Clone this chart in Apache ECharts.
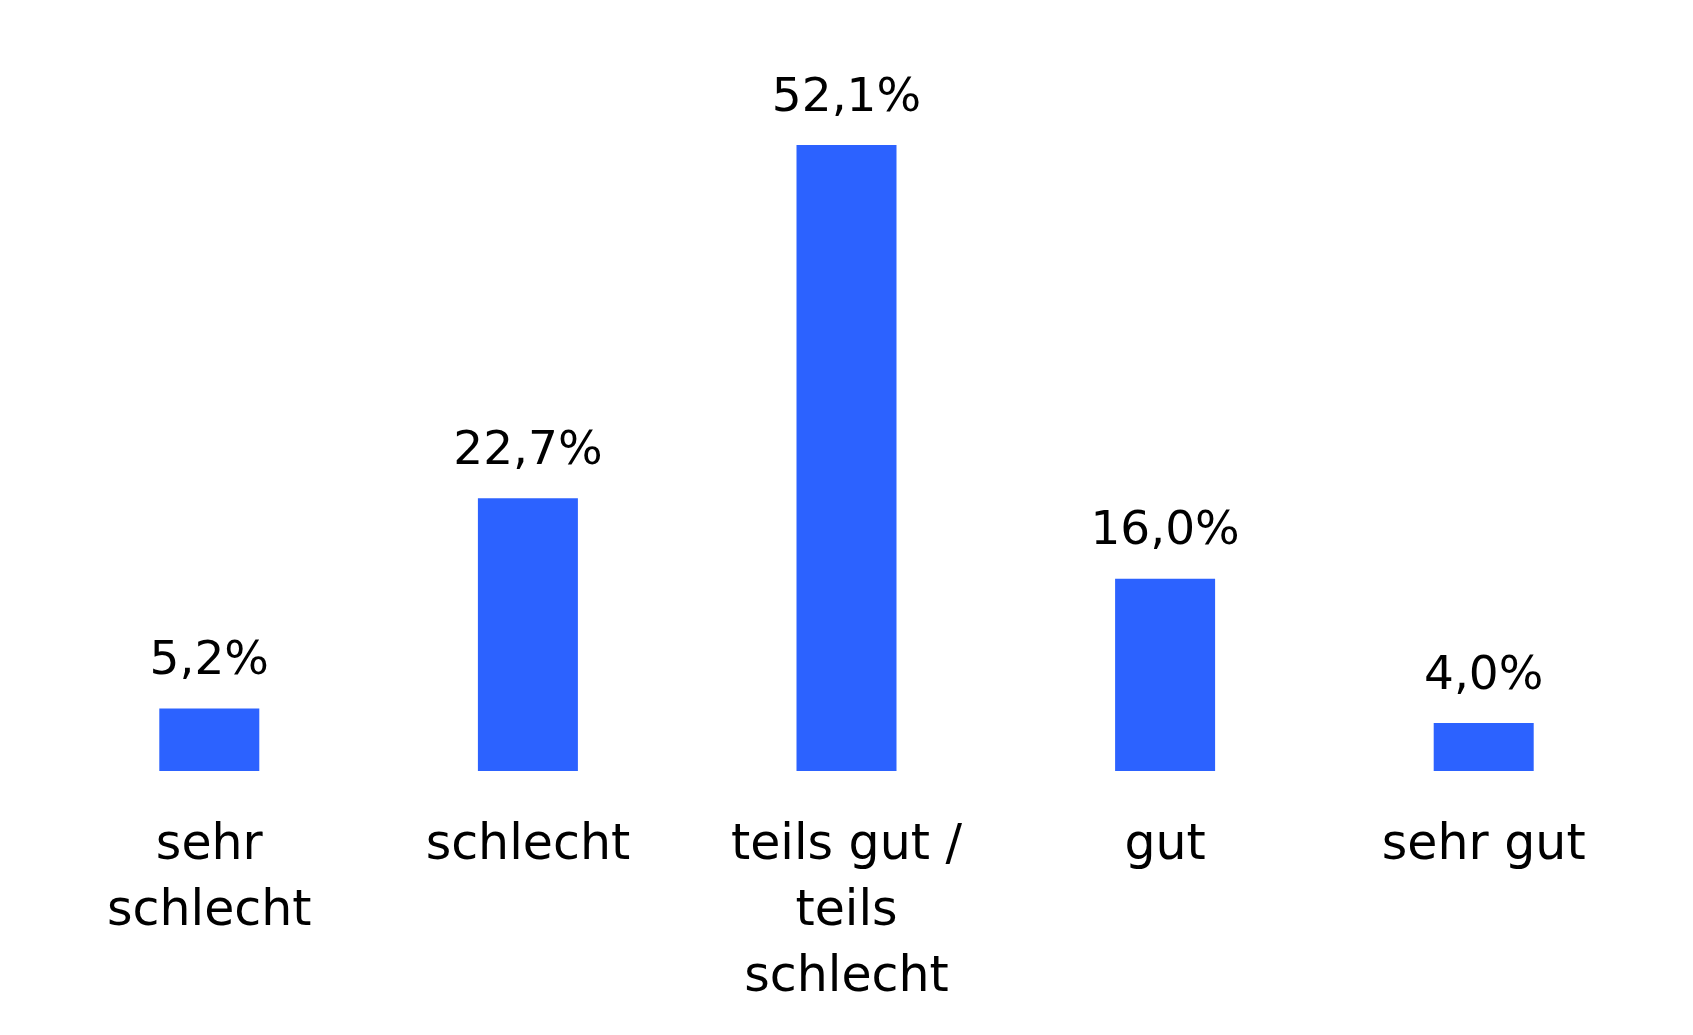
<!DOCTYPE html>
<html>
<head>
<meta charset="utf-8">
<script src="https://cdn.jsdelivr.net/npm/echarts@6/dist/echarts.min.js"></script>
<style>
    html, body { margin: 0; padding: 0; background: #fff; }
    #chart { width: 1693px; height: 1035px; }
</style>
</head>
<body>
<div id="chart"></div>
<script>
// Kategorien und Anteile (%)
let categories = ['sehr\nschlecht', 'schlecht', 'teils gut /\nteils\nschlecht', 'gut', 'sehr gut'];
let values = [5.2, 22.7, 52.1, 16.0, 4.0];

let myChart = echarts.init(document.getElementById('chart'));

let option = {
    animation: false,
    textStyle: {
        fontFamily: 'DejaVu Sans'
    },
    grid: {
        left: 50,
        right: 50,
        top: 50,
        bottom: 264
    },
    xAxis: {
        type: 'category',
        data: categories,
        axisLine: { show: false },
        axisTick: { show: false },
        axisLabel: {
            color: '#000',
            fontSize: 49,
            lineHeight: 66,
            margin: 42,
            interval: 0
        }
    },
    yAxis: {
        type: 'value',
        min: 0,
        max: 60,
        axisLabel: { show: false },
        axisLine: { show: false },
        axisTick: { show: false },
        splitLine: { show: false }
    },
    series: [
        {
            type: 'bar',
            data: values,
            barWidth: 100,
            itemStyle: {
                color: '#2c62ff'
            },
            label: {
                show: true,
                position: 'top',
                distance: 23,
                color: '#000',
                fontSize: 47,
                formatter: function (p) {
                    return p.value.toFixed(1).replace('.', ',') + '%';
                }
            }
        }
    ]
};

myChart.setOption(option);
</script>
</body>
</html>
